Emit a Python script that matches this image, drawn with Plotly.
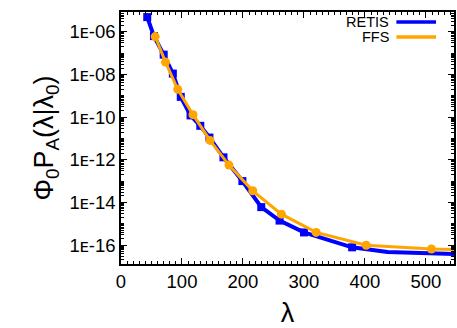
import plotly.graph_objects as go

# RETIS (blue squares)
retis_x = [43, 54, 70, 85, 98, 114, 130, 145, 168, 199, 230, 260, 300, 379]
retis_y = [4.9e-6, 6.3e-7, 8.5e-8, 1.1e-8, 8.9e-10, 1.2e-10, 3.9e-11, 1.1e-11,
           1.3e-12, 1.0e-13, 6.0e-15, 1.4e-15, 3.9e-16, 7.8e-17]
# continuation of the RETIS curve beyond the last marker
retis_tail_x = [437, 546]
retis_tail_y = [4.7e-17, 3.8e-17]

# FFS (orange circles)
ffs_x = [56, 73, 93, 118, 146, 177, 216, 263, 320, 402, 509]
ffs_y = [6.0e-7, 3.8e-8, 2.0e-9, 1.3e-10, 8.1e-12, 5.6e-13, 3.5e-14, 2.8e-15,
         3.9e-16, 9.8e-17, 6.5e-17]
ffs_tail_x = [546]
ffs_tail_y = [6.2e-17]

ytick_vals = [1e-6, 1e-8, 1e-10, 1e-12, 1e-14, 1e-16]
ytick_text = ["1ᴇ-06", "1ᴇ-08", "1ᴇ-10", "1ᴇ-12", "1ᴇ-14", "1ᴇ-16"]
xtick_vals = [0, 100, 200, 300, 400, 500]

BLUE = "#0000ff"
ORANGE = "#ffa500"
FONT = "Liberation Sans, DejaVu Sans"

fig = go.Figure()
fig.add_trace(go.Scatter(x=retis_x + retis_tail_x, y=retis_y + retis_tail_y,
                         mode="lines", line=dict(color=BLUE, width=4),
                         name="RETIS", showlegend=False))
fig.add_trace(go.Scatter(x=retis_x, y=retis_y, mode="markers",
                         marker=dict(symbol="square", size=8, color=BLUE),
                         showlegend=False))
fig.add_trace(go.Scatter(x=ffs_x + ffs_tail_x, y=ffs_y + ffs_tail_y,
                         mode="lines", line=dict(color=ORANGE, width=3),
                         name="FFS", showlegend=False))
fig.add_trace(go.Scatter(x=ffs_x, y=ffs_y, mode="markers",
                         marker=dict(symbol="circle", size=9, color=ORANGE),
                         showlegend=False))

# legend (text left of the sample line, gnuplot style)
legend_items = [("RETIS", BLUE, 0.960), ("FFS", ORANGE, 0.901)]
for name, col, yy in legend_items:
    fig.add_annotation(x=0.810, y=yy, xref="paper", yref="paper", text=name,
                       showarrow=False, xanchor="right", yanchor="middle",
                       font=dict(family=FONT, size=14.5, color="black"))
    fig.add_shape(type="line", xref="paper", yref="paper", x0=0.827, x1=0.946,
                  y0=yy, y1=yy, line=dict(color=col, width=3.5))

fig.update_layout(
    width=457, height=328,
    margin=dict(l=121, r=1, t=12, b=62),
    paper_bgcolor="white", plot_bgcolor="white",
    font=dict(family=FONT, size=18, color="black"),
    showlegend=False,
)
fig.update_xaxes(
    range=[0, 546], tickvals=xtick_vals, ticks="inside", ticklen=6,
    tickcolor="black", showline=True, linecolor="black", linewidth=1.5,
    mirror="ticks", showgrid=False, zeroline=False,
    tickfont=dict(family=FONT, size=18.5),
    minor=dict(dtick=10, ticks="inside", ticklen=3, tickcolor="black", showgrid=False),
    title=dict(text="λ", font=dict(family=FONT, size=27), standoff=16),
)
fig.update_yaxes(
    type="log", range=[-16.89, -5.07], tickvals=ytick_vals, ticktext=ytick_text,
    ticks="inside", ticklen=6, tickcolor="black", showline=True, linecolor="black",
    linewidth=1.5, mirror="ticks", showgrid=False, zeroline=False,
    tickfont=dict(family=FONT, size=18.5),
    minor=dict(dtick="D1", ticks="inside", ticklen=3, tickcolor="black", showgrid=False),
    title=dict(text="Φ<sub>0</sub>P<sub>A</sub>(λ|λ<sub>0</sub>)",
               font=dict(family=FONT, size=27), standoff=8),
)

fig.write_html("out.html")
